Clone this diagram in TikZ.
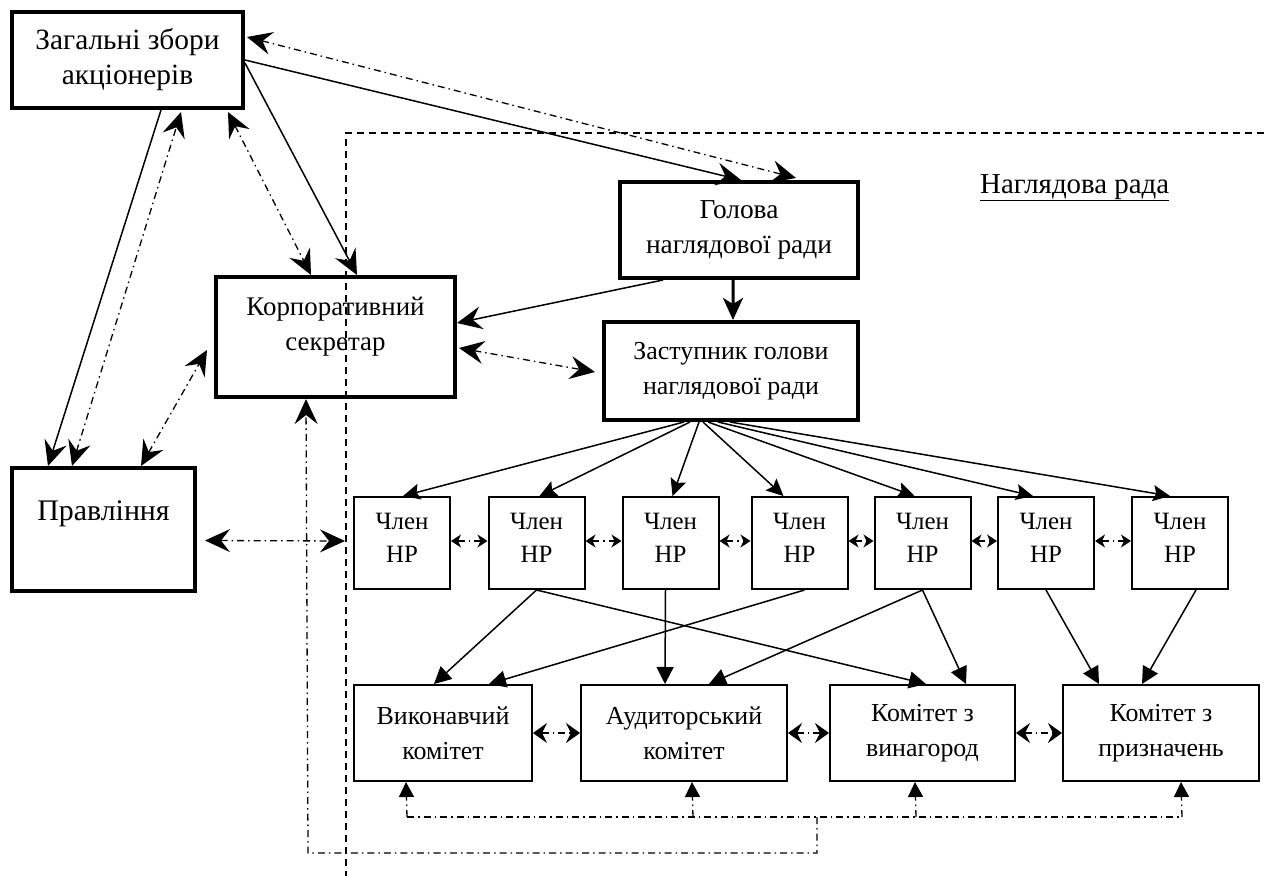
\documentclass[tikz,border=0pt]{standalone}
\usepackage{fontspec}
\setmainfont{Liberation Serif}
\usetikzlibrary{arrows.meta,calc}
\begin{document}
\begin{tikzpicture}[x=1bp,y=-1bp,
  every node/.style={font=\fontsize{26}{35}\selectfont},
  bigbox/.style={draw, line width=4bp, inner sep=0pt, align=center},
  thinbox/.style={draw, line width=2bp, inner sep=0pt, align=center},
  txt/.style={inner sep=0pt, align=center},
  conn/.style={line width=1.5bp},
  dd/.style={line width=1.3bp, dash pattern=on 7bp off 4bp on 1.5bp off 4bp},
  bighead/.style={-{Stealth[length=25bp,width=23bp,inset=9bp]}},
  bigboth/.style={{Stealth[length=25bp,width=23bp,inset=9bp]}-{Stealth[length=25bp,width=23bp,inset=9bp]}},
  midhead/.style={-{Stealth[length=17bp,width=16bp,inset=3bp]}},
  smallboth/.style={{Stealth[length=10bp,width=13bp,inset=3bp]}-{Stealth[length=10bp,width=13bp,inset=3bp]}},
  comboth/.style={{Stealth[length=14bp,width=20bp,inset=5bp]}-{Stealth[length=14bp,width=20bp,inset=5bp]}},
  tri/.style={-{Triangle[length=17bp,width=17bp]}},
  region/.style={line width=1.5bp, dash pattern=on 7bp off 5bp}
]
\useasboundingbox (0,0) rectangle (1264,876);

% main boxes
\node[bigbox, minimum width=231bp, minimum height=96bp, font=\fontsize{29.5}{35}\selectfont] (zag) at (127.5,60) {Загальні збори\\акціонерів};
\node[bigbox, minimum width=238bp, minimum height=96bp, font=\fontsize{27.5}{35}\selectfont] (hol) at (739,230) {Голова\\наглядової ради};
\node[bigbox, minimum width=239bp, minimum height=120bp] (sec) at (335.5,337) {};
\node[txt, font=\fontsize{27}{35}\selectfont] (sectxt) at ($(sec.north)+(0,52)$) {Корпоративний\\секретар};
\node[bigbox, minimum width=254bp, minimum height=98bp] (zast) at (731,371) {Заступник голови\\наглядової ради};
\node[bigbox, minimum width=183bp, minimum height=123bp] (prav) at (103.5,529.5) {};
\node[txt, font=\fontsize{30}{35}\selectfont] (pravtxt) at ($(prav.north)+(0,48)$) {Правління};

% members
\foreach \i/\x in {1/402,2/536.5,3/670.5,4/799.5,5/922.5,6/1046,7/1180}{
  \node[thinbox, minimum width=96bp, minimum height=92bp] (m\i) at (\x,543) {};
  \node[txt, font=\fontsize{25}{33}\selectfont] (m\i t) at ($(m\i)+(0,-5)$) {Член\\НР};
}

% committees
\node[thinbox, minimum width=178bp, minimum height=96bp] (c1) at (443,733) {Виконавчий\\комітет};
\node[thinbox, minimum width=206bp, minimum height=96bp] (c2) at (684,733) {Аудиторський\\комітет};
\node[thinbox, minimum width=185bp, minimum height=96bp] (c3) at (922.5,733) {Комітет з\\винагород};
\node[thinbox, minimum width=196bp, minimum height=96bp] (c4) at (1161,733) {Комітет з\\призначень};

% supervisory board region
\coordinate (rtop) at (1264,133);
\coordinate (rcorner) at (346,133);
\coordinate (rbot) at (346,876);
\draw[region] (rtop) -- (rcorner) -- (rbot);
\node[anchor=base west, inner sep=0pt, font=\fontsize{29}{35}\selectfont] (nrlabel) at (980,193) {\underline{Наглядова рада}};

% top connectors
\draw[conn, bighead] ($(zag.north east)+(0,50)$) -- ($(hol.north west)+(123,0)$);
\draw[dd, bigboth] ($(zag.north east)+(2,27)$) -- ($(hol.north west)+(178,-2)$);
\draw[conn, bighead] ($(zag.north east)+(0,53)$) -- ($(sec.north west)+(143,0)$);
\draw[dd, bigboth] ($(zag.south west)+(218,2)$) -- ($(sec.north west)+(97,0)$);
\draw[conn, bighead] ($(zag.south west)+(151,0)$) -- ($(prav.north west)+(38,0)$);
\draw[dd, bigboth] ($(prav.north west)+(62,0)$) -- ($(zag.south west)+(171,2)$);
\draw[dd, bigboth] ($(prav.north west)+(131,0)$) -- ($(sec.west)+(-7,13)$);
\draw[dd, bigboth] ($(prav.east)+(8,11)$) -- ($(m1.west)+(-8,-2)$);
\draw[conn, bighead] ($(hol.south west)+(45,0)$) -- ($(sec.east)+(0,-14)$);
\draw[line width=3bp, -{Stealth[length=22bp,width=20bp,inset=6bp]}] ($(hol.south west)+(115,0)$) -- ($(zast.north west)+(131,0)$);
\draw[dd, bigboth] ($(sec.east)+(2,11)$) -- ($(zast.west)+(-7,1)$);

% fan to members
\draw[conn, midhead] ($(zast.south west)+(82,0)$) -- ($(m1.north)+(1,0)$);
\draw[conn, midhead] ($(zast.south west)+(88,0)$) -- ($(m2.north)+(3,0)$);
\draw[conn, midhead] ($(zast.south west)+(97,0)$) -- ($(m3.north)+(2,0)$);
\draw[conn, midhead] ($(zast.south west)+(101,0)$) -- ($(m4.north)+(-16,0)$);
\draw[conn, midhead] ($(zast.south west)+(106,0)$) -- ($(m5.north)+(-8,0)$);
\draw[conn, midhead] ($(zast.south west)+(116,0)$) -- ($(m6.north)+(-13,0)$);
\draw[conn, midhead] ($(zast.south west)+(128,0)$) -- ($(m7.north)+(-10,0)$);

% member links
\foreach \a/\b in {1/2,2/3,3/4,4/5,5/6,6/7}{
  \draw[dd, smallboth] ($(m\a.east)+(0,-2)$) -- ($(m\b.west)+(0,-2)$);
}

% members to committees
\draw[conn, tri] (m2.south) -- ($(c1.north west)+(81,0)$);
\draw[conn, tri] (m2.south) -- ($(c3.north west)+(97,0)$);
\draw[conn, tri] ($(m3.south west)+(44,0)$) -- ($(c2.north west)+(85,0)$);
\draw[conn, tri] ($(m4.south west)+(54,0)$) -- ($(c1.north west)+(136,0)$);
\draw[conn, tri] ($(m5.south west)+(49,0)$) -- ($(c2.north west)+(129,0)$);
\draw[conn, tri] ($(m5.south west)+(49,0)$) -- ($(c3.north west)+(137,0)$);
\draw[conn, tri] ($(m6.south west)+(49,0)$) -- ($(c4.north west)+(37,0)$);
\draw[conn, tri] ($(m7.south west)+(65,0)$) -- ($(c4.north west)+(80,0)$);

% committee links
\draw[dd, comboth] (c1.east) -- (c2.west);
\draw[dd, comboth] (c2.east) -- (c3.west);
\draw[dd, comboth] (c3.east) -- (c4.west);

% bottom bus
\coordinate (b1) at (407,817);
\coordinate (b2) at (693,817);
\coordinate (b3) at (916,817);
\coordinate (b4) at (1182,817);
\coordinate (bj) at (817,817);
\coordinate (bj2) at (817,853);
\coordinate (bl) at (308,853);
\draw[dd] (b1) -- (b4);
\draw[dd, -{Triangle[length=15bp,width=15bp]}] (b1) -- ($(c1.south west)+(53,0)$);
\draw[dd, -{Triangle[length=15bp,width=15bp]}] (b2) -- ($(c2.south west)+(112,0)$);
\draw[dd, -{Triangle[length=15bp,width=15bp]}] (b3) -- ($(c3.south west)+(86,0)$);
\draw[dd, -{Triangle[length=15bp,width=15bp]}] (b4) -- ($(c4.south west)+(119,0)$);
\draw[dd, bighead] (bj) -- (bj2) -- (bl) -- ($(sec.south west)+(92,0)$);
\end{tikzpicture}
\end{document}
